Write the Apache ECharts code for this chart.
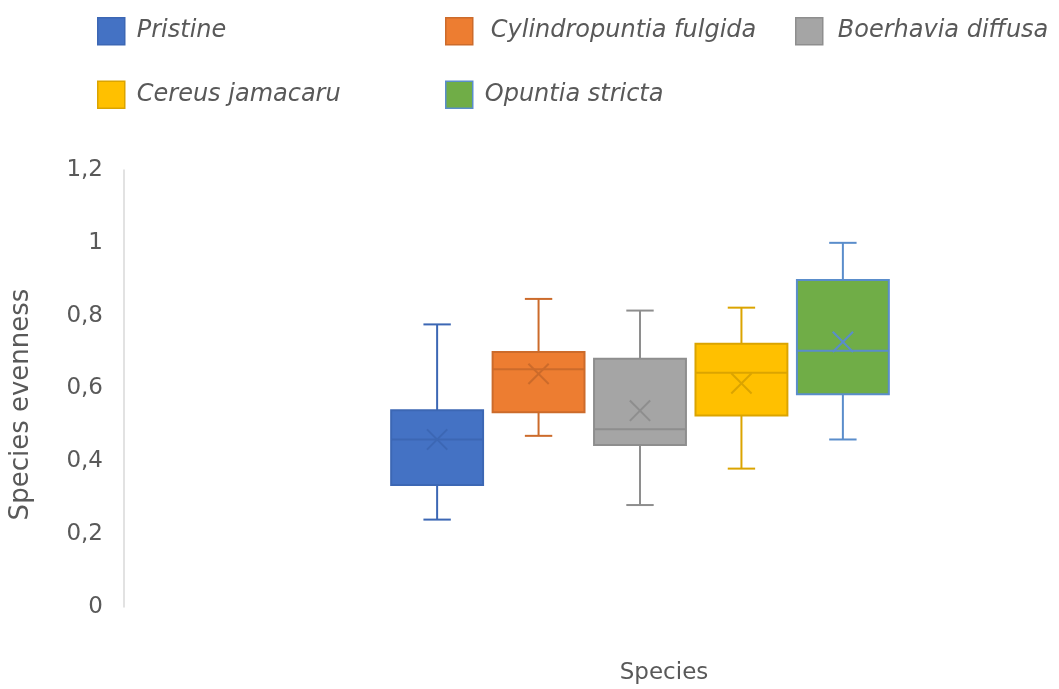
<!DOCTYPE html>
<html>
<head>
<meta charset="utf-8">
<title>Species evenness</title>
<script src="https://cdn.jsdelivr.net/npm/echarts@6/dist/echarts.min.js"></script>
<style>
  html, body { margin: 0; padding: 0; background: #ffffff; }
  #chart { width: 1059px; height: 689px; }
</style>
</head>
<body>
<div id="chart"></div>
<script>
// Five-number summaries (plus mean) of species evenness per site group
const speciesNames = ['Pristine', 'Cylindropuntia fulgida', 'Boerhavia diffusa', 'Cereus jamacaru', 'Opuntia stricta'];
const minVals    = [0.24,  0.47,  0.28,  0.38,  0.46];
const q1Vals     = [0.335, 0.535, 0.445, 0.526, 0.584];
const medianVals = [0.46,  0.653, 0.488, 0.643, 0.704];
const q3Vals     = [0.54,  0.70,  0.682, 0.723, 0.898];
const maxVals    = [0.776, 0.846, 0.814, 0.822, 1.0];
const meanVals   = [0.46,  0.64,  0.539, 0.614, 0.728];

const categories = ['Species'];
const yTickLabels = ['0', '0,2', '0,4', '0,6', '0,8', '1', '1,2'];

const fillColors = ['#4472C4', '#ED7D31', '#A5A5A5', '#FFC000', '#70AD47'];
const lineColors = ['#3C67B4', '#CC6B2B', '#8E8E8E', '#DBA400', '#5A8DCB'];

const TEXT = '#595959';
const FONT = '"DejaVu Sans", "Open Sans", sans-serif';

// Share of the category band used by the group of boxes, and per-slot shares
const GROUP_SHARE = 0.8;
const BOX_SHARE = 0.906;
const CAP_SHARE = 0.27;
const MEAN_SHARE = 0.2;

const N = speciesNames.length;

function boxRenderer(slot) {
  return function (params, api) {
    const band = api.size([1, 0])[0];
    const step = band * GROUP_SHARE / N;
    const cx = api.coord([api.value(0), 0])[0] + (slot - (N - 1) / 2) * step;
    const boxW = step * BOX_SHARE;
    const capW = step * CAP_SHARE;
    const m = step * MEAN_SHARE / 2;
    const py = k => api.coord([api.value(0), api.value(k)])[1];
    const yMin = py(1), yQ1 = py(2), yMed = py(3), yQ3 = py(4), yMax = py(5), yMean = py(6);
    const line = lineColors[slot];
    const ls = { stroke: line, lineWidth: 2, fill: null };
    return {
      type: 'group',
      children: [
        { type: 'line', shape: { x1: cx, y1: yMax, x2: cx, y2: yQ3 }, style: ls },
        { type: 'line', shape: { x1: cx, y1: yQ1, x2: cx, y2: yMin }, style: ls },
        { type: 'line', shape: { x1: cx - capW / 2, y1: yMax, x2: cx + capW / 2, y2: yMax }, style: ls },
        { type: 'line', shape: { x1: cx - capW / 2, y1: yMin, x2: cx + capW / 2, y2: yMin }, style: ls },
        { type: 'rect', shape: { x: cx - boxW / 2, y: yQ3, width: boxW, height: yQ1 - yQ3 },
          style: { fill: fillColors[slot], stroke: line, lineWidth: 2 } },
        { type: 'line', shape: { x1: cx - boxW / 2, y1: yMed, x2: cx + boxW / 2, y2: yMed }, style: ls },
        { type: 'line', shape: { x1: cx - m, y1: yMean - m, x2: cx + m, y2: yMean + m }, style: ls },
        { type: 'line', shape: { x1: cx - m, y1: yMean + m, x2: cx + m, y2: yMean - m }, style: ls }
      ]
    };
  };
}

const series = speciesNames.map((name, i) => ({
  name: name,
  type: 'custom',
  renderItem: boxRenderer(i),
  itemStyle: { color: fillColors[i], borderColor: lineColors[i], borderWidth: 1.5 },
  encode: { x: 0, y: [1, 2, 3, 4, 5, 6] },
  data: [[0, minVals[i], q1Vals[i], medianVals[i], q3Vals[i], maxVals[i], meanVals[i]]]
}));

function legendEntry(i, gap) {
  return {
    name: speciesNames[i],
    itemStyle: { color: fillColors[i], borderColor: lineColors[i], borderWidth: 1.5 },
    textStyle: { padding: [0, 0, 0, gap] }
  };
}

const legendBase = {
  orient: 'vertical',
  top: 17,
  padding: 0,
  itemWidth: 27,
  itemHeight: 27,
  itemGap: 35,
  icon: 'rect',
  selectedMode: false,
  textStyle: { color: TEXT, fontFamily: FONT, fontStyle: 'italic', fontSize: 24 }
};

const chart = echarts.init(document.getElementById('chart'), null, { renderer: 'canvas' });
chart.setOption({
  backgroundColor: '#ffffff',
  animation: false,
  legend: [
    Object.assign({}, legendBase, { left: 97, data: [legendEntry(0, 7), legendEntry(3, 7)] }),
    Object.assign({}, legendBase, { left: 445, data: [legendEntry(1, 13), legendEntry(4, 7)] }),
    Object.assign({}, legendBase, { left: 795, data: [legendEntry(2, 10)] })
  ],
  grid: { left: 323, right: 102, top: 170, bottom: 82, containLabel: false, outerBoundsMode: 'none' },
  xAxis: {
    type: 'category',
    data: categories,
    axisLine: { show: false },
    axisTick: { show: false },
    axisLabel: { show: false },
    splitLine: { show: false },
    name: 'Species',
    nameLocation: 'middle',
    nameGap: 55,
    nameTextStyle: { color: TEXT, fontFamily: FONT, fontSize: 23, padding: [0, 0, 0, 48] }
  },
  yAxis: {
    type: 'value',
    min: 0,
    max: 1.2,
    interval: 0.2,
    offset: 199,
    axisLine: { show: true, lineStyle: { color: '#D9D9D9', width: 1.5 } },
    axisTick: { show: false },
    splitLine: { show: false },
    axisLabel: {
      color: TEXT, fontFamily: FONT, fontSize: 23, margin: 21,
      formatter: v => yTickLabels[Math.round(v / 0.2)]
    },
    name: 'Species evenness',
    nameLocation: 'middle',
    nameRotate: 90,
    nameGap: 90,
    nameTextStyle: { color: TEXT, fontFamily: FONT, fontSize: 26, padding: [0, 32, 0, 0] }
  },
  series: series
});
</script>
</body>
</html>
